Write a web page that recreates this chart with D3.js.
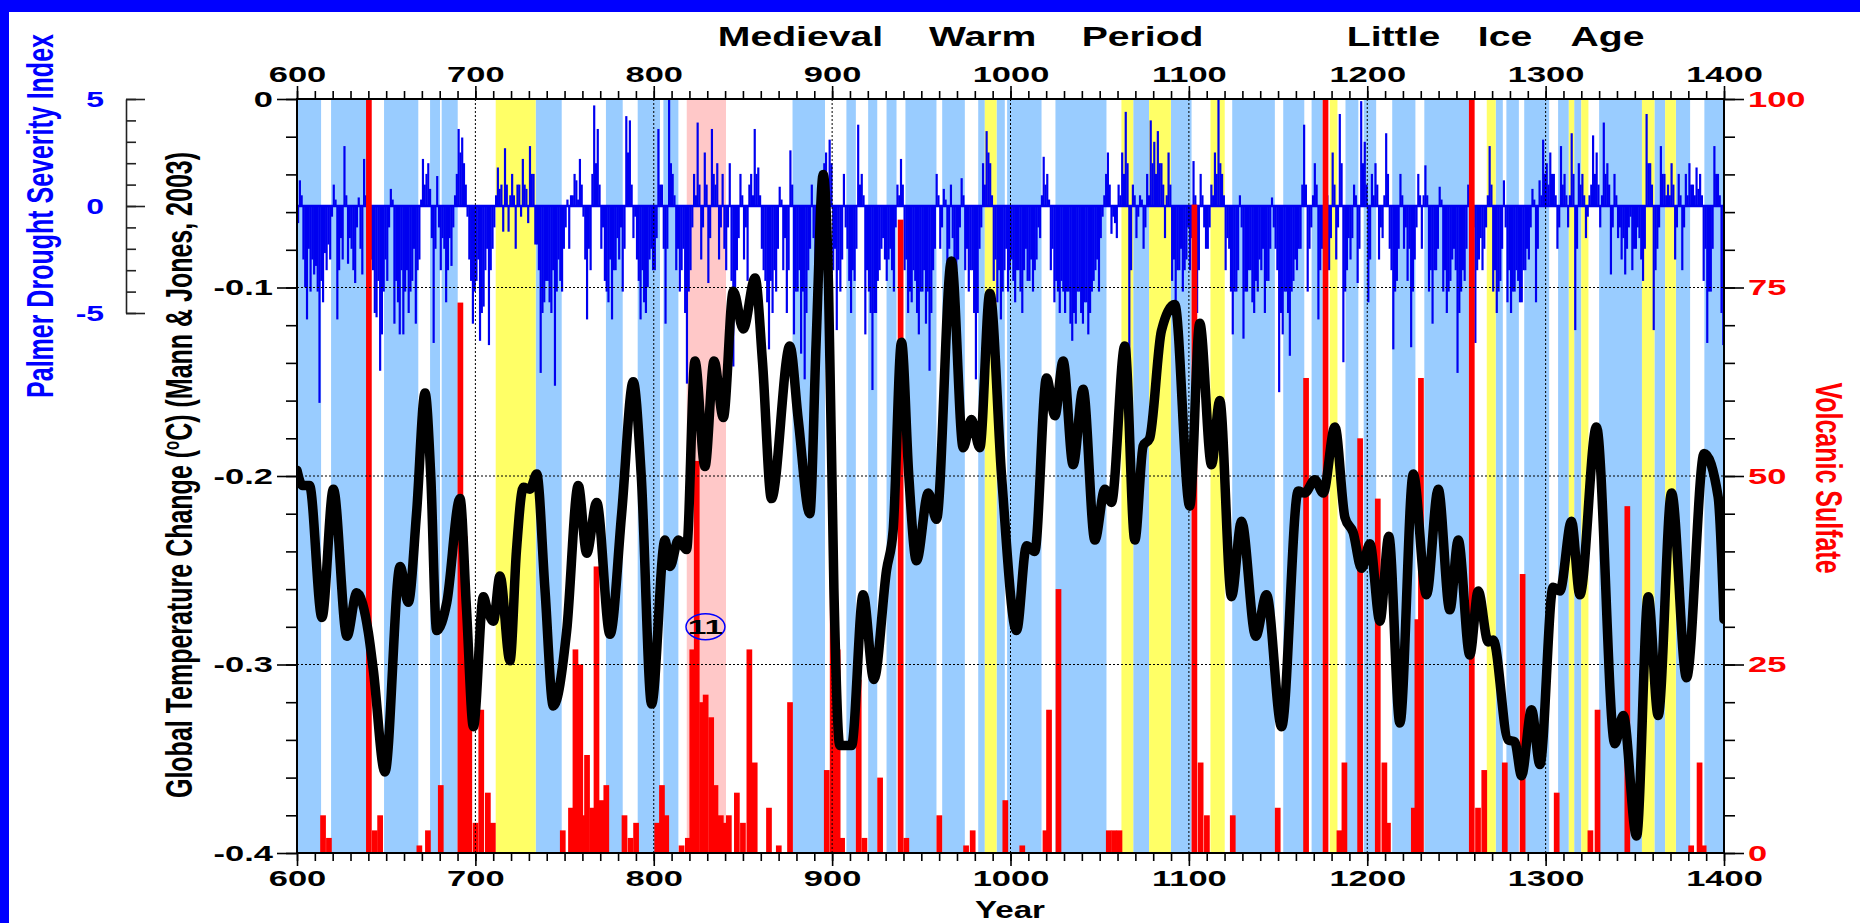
<!DOCTYPE html>
<html><head><meta charset="utf-8">
<script src="https://cdn.jsdelivr.net/npm/d3@7"></script>
<style>
html,body{margin:0;padding:0;background:#fff;}
svg{display:block;}
text{font-family:"Liberation Sans",Arial,Helvetica,sans-serif;font-weight:bold;}
</style></head><body>
<svg id="chart" width="1860" height="923"></svg>
<script>
// ---------------- DATA ----------------
const tempYears = [600,603,607,614,620.4,628,633.5,640,642.8,649.3,657.8,662.4,667,671.8,675,678.3,684,691.4,695,698.9,704.5,706.5,710.1,713.8,719.4,723,726.9,730.6,734.4,739,743.7,751.2,757.7,762.4,768,775.5,782,788.5,793,798.8,806.3,809.1,813.8,818.4,823.1,828.7,833.8,839,844.6,850.2,856.8,861,866,876.3,881,887.5,891,895,898,901,904.3,910.9,917.4,923.4,930.5,934.2,938.9,943,947.3,953.9,958.5,966.9,973.5,978.1,982.8,988.4,995,1003.4,1009,1013.6,1020.2,1024.9,1029.5,1035.1,1040.7,1047.3,1052.9,1056.6,1064.1,1069.7,1074.4,1078,1084.6,1092.1,1100.5,1106.1,1112.7,1117.3,1123.9,1129.5,1137.5,1143.5,1152,1161.3,1165,1170.6,1175.3,1181.9,1187.5,1192.1,1196.8,1201.5,1207.1,1212.1,1218.3,1225.8,1233.2,1239.8,1246.3,1251,1257.5,1262.2,1267.8,1270.6,1279,1282.7,1286.5,1292.1,1296.8,1304.2,1308,1314.5,1319.2,1328.5,1338.8,1343.5,1351,1357.5,1363.1,1370.6,1379,1388.9,1396.7,1400];
const tempValues = [-0.197,-0.205,-0.205,-0.275,-0.207,-0.285,-0.262,-0.283,-0.303,-0.357,-0.248,-0.267,-0.22,-0.156,-0.2,-0.282,-0.267,-0.212,-0.27,-0.333,-0.264,-0.27,-0.277,-0.253,-0.298,-0.24,-0.206,-0.207,-0.199,-0.26,-0.322,-0.282,-0.205,-0.241,-0.214,-0.284,-0.22,-0.15,-0.2,-0.321,-0.234,-0.248,-0.234,-0.239,-0.139,-0.195,-0.139,-0.169,-0.102,-0.122,-0.095,-0.14,-0.212,-0.131,-0.17,-0.22,-0.13,-0.04,-0.1,-0.26,-0.343,-0.343,-0.263,-0.308,-0.25,-0.229,-0.129,-0.2,-0.245,-0.209,-0.223,-0.086,-0.185,-0.17,-0.185,-0.103,-0.2,-0.282,-0.237,-0.24,-0.148,-0.168,-0.139,-0.194,-0.154,-0.234,-0.207,-0.214,-0.131,-0.234,-0.184,-0.18,-0.123,-0.109,-0.216,-0.119,-0.194,-0.16,-0.264,-0.224,-0.285,-0.263,-0.333,-0.208,-0.209,-0.202,-0.209,-0.174,-0.222,-0.23,-0.249,-0.236,-0.277,-0.232,-0.331,-0.199,-0.263,-0.207,-0.271,-0.234,-0.295,-0.261,-0.288,-0.287,-0.34,-0.341,-0.359,-0.324,-0.353,-0.259,-0.261,-0.224,-0.263,-0.174,-0.342,-0.327,-0.391,-0.264,-0.327,-0.209,-0.307,-0.188,-0.211,-0.276];

const volcYears = [613,616.3,638.7,642,645,667,671.8,679,690,692.5,695,698.5,701.7,705.4,708.2,747.4,752,754.5,757.2,759.5,761,764,766.3,769,771.8,782,785.4,788.5,800.3,803,805.4,814,817.5,820,822.5,825.5,827.5,830.6,833,836,838.5,840.5,845,848.4,852,855,863,868.5,874.8,895.4,898.7,901.5,904,913.3,916.5,925.3,936.8,940,958.5,973.5,977.2,995.5,1005,1018,1020,1025.3,1053.5,1056.5,1059.5,1101.5,1105,1108.5,1123,1148.2,1164.1,1175,1182.8,1185.6,1194.4,1204.3,1208,1210,1224.5,1226.5,1228.5,1257,1260.5,1264,1275.5,1285.5,1304.6,1323.5,1327.5,1344.2,1380,1384.7,1387];
const volcValues = [5,2,100,3,5,1,3,9,73,42,23,4,19,8,4,3,6,27,25,5,13,6,38,7,9,5,2,4,4,9,5,1,2,27,52,20,21,18,9,5,4,5,8,4,27,12,6,1,20,11,36,27,2,23,2,10,84,2,5,1,3,7,1,3,19,35,3,3,3,86,12,5,5,6,63,100,3,12,55,47,12,4,6,31,63,100,6,11,12,37,8,3,19,46,1,12,1];

const pdsiStartYear = 600;
const pdsi = [
-0.8,1.2,0.5,-2.5,-3.8,-5.3,-2.0,-4.0,-2.5,-3.2,
-2.8,-4.0,-9.2,-3.5,-4.5,-2.2,-3.0,-1.8,-2.5,-0.5,
1.0,0.3,-5.3,-3.0,-1.5,-2.5,2.8,0.5,-2.7,-1.5,
-2.0,-3.0,-3.6,-1.0,0.4,-2.0,-3.2,2.2,0.5,-1.0,
-4.7,-2.5,-3.0,-5.0,-5.2,-3.5,-7.7,-6.0,-4.0,-2.5,
-3.5,-1.0,0.8,0.3,-5.5,-3.5,-4.5,-6.0,-3.0,-6.0,
-4.0,-3.0,-5.0,-4.0,-3.5,-2.0,-5.5,-3.0,-2.5,0.3,
2.2,1.0,1.5,2.0,0.8,-1.5,-6.4,-2.0,1.4,-1.0,
-3.0,-1.5,-2.0,-4.5,-3.0,-1.5,-2.8,-1.0,0.5,1.5,
3.6,2.5,3.2,2.0,1.0,-0.5,-2.5,-3.5,-5.5,-4.0,
-3.5,-2.5,-6.3,-5.0,-4.7,-3.0,-2.0,-6.5,-3.0,-2.0,
-1.0,0.5,1.8,0.8,1.0,-1.2,2.7,1.0,-1.2,0.5,
1.5,0.5,-2.0,1.0,1.0,-0.5,2.2,1.0,0.8,-0.8,
2.8,1.5,1.5,-1.8,-1.8,-3.0,-7.8,-5.0,-4.5,-3.5,
-3.5,-4.5,-5.0,-3.0,-8.4,-4.0,-2.5,-3.5,-4.0,-2.0,
-1.0,0.3,-2.0,0.5,0.5,1.5,1.2,0.3,2.2,1.0,
-0.5,-2.5,-5.3,-2.0,-3.0,1.5,4.7,2.0,3.6,1.0,
-2.0,-1.0,-3.5,-4.0,-4.5,-2.5,-5.3,-3.0,-3.0,-1.5,
-2.5,-1.0,-4.0,-2.0,4.2,2.5,4.0,1.0,-1.5,-0.5,
-2.5,-3.5,-5.3,-3.0,-4.5,-5.0,-3.8,-2.5,-2.0,-3.0,
-3.0,-1.5,3.6,1.0,1.0,-2.0,-5.5,-2.0,5.0,2.0,
1.5,0.5,-3.0,-2.0,-4.0,-3.0,-2.0,-5.0,-8.3,-4.0,
-3.0,-1.0,1.5,0.5,3.9,1.0,-2.5,-1.0,2.5,1.0,
-3.6,-1.5,3.6,1.5,1.0,2.0,-2.5,-1.0,1.5,-2.0,
-3.0,-1.0,2.0,-3.5,-7.5,-4.0,-3.0,-1.5,1.5,0.5,
-2.5,-1.0,-3.5,1.0,1.5,0.5,3.6,1.5,1.8,0.5,
-2.0,-3.0,-3.5,-4.5,-6.7,-3.5,-5.0,-3.0,-4.0,-2.0,
0.9,0.3,-3.0,-1.5,-5.0,-3.0,2.6,1.0,-6.0,-4.0,
-4.0,-3.0,-6.9,-4.0,-8.1,-5.0,-3.0,-2.0,1.0,-1.5,
-4.0,-2.0,-2.0,0.5,1.5,2.0,2.5,1.0,3.1,2.0,
-3.0,-2.0,-5.8,-3.0,-4.0,-2.5,1.5,-1.0,-2.0,-3.5,
-5.0,-3.0,-3.5,-2.0,3.8,1.0,1.5,0.5,-6.0,-3.0,
-4.0,-5.0,-8.6,-5.0,-5.0,-3.5,-3.0,-2.0,-1.5,-2.5,
-3.5,-2.5,-2.0,-3.0,-4.0,-1.0,1.0,0.5,2.2,1.0,
-3.0,-2.5,-5.0,-4.0,-4.5,-3.0,-3.5,-5.0,-6.0,-4.0,
-4.0,-3.0,-5.5,-4.0,-7.7,-5.0,-3.0,-2.0,1.5,0.5,
-2.0,-1.0,0.8,0.3,-4.0,-2.0,1.0,-1.5,-5.3,-3.0,
-2.5,-1.0,1.3,0.5,-3.0,-2.0,-4.0,-3.0,-3.0,-5.0,
-8.1,-5.0,-2.0,-1.0,2.0,1.0,3.5,2.5,2.0,0.5,
-3.5,-2.5,-4.5,-3.0,-5.3,-4.0,-3.0,-2.0,-4.0,-3.0,
-2.5,-3.5,-4.5,-3.0,-3.0,-4.0,-5.0,-3.0,-2.0,-3.5,
-3.5,-2.5,-4.0,-3.0,-2.5,-1.0,-1.5,0.5,2.3,1.0,
1.5,0.3,-3.0,-2.0,-4.5,-3.5,-4.0,-5.0,-3.5,-4.0,
-5.0,-4.0,-4.0,-5.5,-6.3,-5.0,-5.5,-4.0,-4.0,-5.0,
-5.5,-4.5,-4.5,-6.0,-5.0,-4.0,-3.5,-3.0,-2.5,-4.0,
-1.5,-0.5,0.5,1.5,2.5,1.0,-1.3,-0.5,-0.8,-1.5,
1.0,0.5,2.5,1.5,4.4,2.0,-8.0,-3.0,1.0,0.5,
-1.5,-0.5,0.5,0.3,-2.0,-1.0,1.5,0.5,4.0,2.0,
3.0,1.5,3.5,2.0,2.0,1.0,-1.5,0.5,2.5,1.0,
-3.5,-2.5,-4.9,-3.0,-3.0,-2.0,-4.0,-3.0,-2.5,-1.0,
-3.0,-1.5,2.1,0.5,-5.0,-3.0,1.5,0.5,-1.0,-2.0,
-2.0,-1.0,1.0,0.5,2.5,1.5,5.0,2.0,1.5,0.5,
-3.0,-1.5,-2.0,-4.0,-6.0,-4.0,-4.0,-3.0,0.5,-1.0,
-6.2,-4.0,-4.0,-3.0,-3.0,-4.5,-5.0,-3.5,-4.0,-2.5,
-3.0,-2.0,-5.0,-3.5,-3.5,-2.0,0.4,-1.0,-2.0,-3.0,
-8.7,-5.0,-6.0,-4.0,-4.0,-5.0,-7.0,-4.0,-3.5,-2.5,
-3.0,-2.0,-2.0,1.0,3.8,1.0,-4.0,-2.0,-1.0,0.5,
2.0,1.0,-5.3,-3.0,-2.0,-1.0,1.0,0.5,-3.0,-1.5,
2.5,1.0,-2.5,-1.0,4.3,2.0,-7.3,-4.0,-3.0,-1.5,
-2.5,-1.5,1.0,0.5,-3.6,-2.0,4.9,2.0,3.0,1.0,
-4.5,-2.5,1.5,0.5,2.0,1.0,-2.5,-1.0,-1.5,0.5,
3.4,1.5,-2.0,-3.0,-6.7,-4.0,-3.5,-2.0,1.5,0.5,
-2.0,-1.0,-3.5,-2.0,-6.6,-4.0,-2.5,-1.0,1.5,0.5,
-2.0,0.5,1.9,0.5,-4.0,-3.0,-5.5,-3.0,-3.0,-2.0,
0.9,0.3,-4.0,-3.0,-5.0,-4.0,-3.5,-2.5,-2.0,-3.0,
-7.8,-5.0,-4.0,-3.0,-3.5,-2.0,1.0,0.5,1.7,-1.0,
-6.4,-3.0,-2.5,-1.5,-3.0,-2.0,-1.0,0.5,2.8,1.0,
-4.0,-3.0,-5.0,-4.0,-3.5,-2.0,1.2,-1.0,-4.5,-3.0,
-5.0,-4.0,-4.0,-3.0,-3.5,-4.5,-4.5,-3.0,-3.0,-2.0,
-2.5,-1.0,0.8,0.3,-4.5,-2.0,1.2,0.5,3.1,1.5,
2.0,1.0,2.5,1.5,1.5,0.5,-2.0,-1.0,2.8,1.0,
1.5,0.5,-1.0,0.5,3.4,1.5,-5.8,-2.0,2.0,1.0,
1.5,0.5,-1.5,-0.5,0.5,1.0,3.3,1.5,2.5,1.0,
-1.0,0.5,3.9,1.5,2.0,1.0,-3.2,-1.0,1.5,0.5,
-1.5,-1.0,-2.5,-1.5,-3.2,-2.0,-1.0,-0.5,-3.0,-2.0,
-2.0,-1.0,-1.5,-2.5,-3.5,-2.0,4.3,2.0,2.0,1.0,
-5.8,-3.0,-2.0,-1.0,2.8,1.5,1.5,0.5,1.0,0.5,
2.0,1.0,-2.5,-1.0,1.5,0.5,-3.0,-1.0,1.5,0.5,
2.0,1.0,1.0,0.5,1.8,0.8,1.5,0.5,-3.5,-2.0,
-6.4,-4.0,-4.0,-2.0,2.8,1.5,1.5,0.5,-5.0,-6.5
];

const blueBands = [[600,613.5],[619.1,638.7],[648.8,668],[674.6,680.2],[681.1,690.1],[733.8,748.4],[773.2,782.6],[791,803.5],[805.4,813.8],[877.8,896],[908,913.3],[920.2,925.3],[930.5,936.1],[941.1,958.5],[961.7,974.4],[981.9,985.6],[992.2,996.8],[998.1,1017.4],[1025.2,1053.8],[1068.8,1077.7],[1089.9,1101.5],[1124.3,1148.2],[1152.9,1164.7],[1168.8,1175],[1187.8,1195],[1198,1205],[1214,1227],[1232,1257],[1272,1276],[1278,1285],[1288,1302],[1307,1313],[1316,1320],[1330,1354],[1361,1367],[1373,1381],[1389,1400]];
const yellowBands = [[711.4,733.8],[985.6,992.2],[1062.2,1068.8],[1077.7,1089.9],[1112.1,1120.1],[1179,1183.3],[1267,1272],[1313,1316],[1320,1324],[1354,1361],[1367,1373]];
const pinkBands = [[818.5,840.5]];

const yearTicks = [600,700,800,900,1000,1100,1200,1300,1400];
const tempTicks = [0,-0.1,-0.2,-0.3,-0.4];
const sulfateTicks = [0,25,50,75,100];
const pdsiTicks = [5,0,-5];
const gridYears = [700,800,900,1000,1100,1200,1300];
const gridTemps = [-0.1,-0.2,-0.3];
const periodWords = ["Medieval","Warm","Period","Little","Ice","Age"];
const noteLabel = {year:829, temp:-0.28, text:"11"};

// ---------------- DRAWING ----------------
const W=1860,H=923;
const M={left:297,right:1724,top:99,bottom:853};
const svg=d3.select("#chart");
svg.append("rect").attr("width",W).attr("height",H).attr("fill","#0000ff");
svg.append("rect").attr("x",9).attr("y",12).attr("width",W-9).attr("height",H-12).attr("fill","#fff");

const x=d3.scaleLinear().domain([600,1400]).range([M.left,M.right]);
const y=d3.scaleLinear().domain([-0.4,0]).range([M.bottom,M.top]);
const yV=d3.scaleLinear().domain([0,100]).range([M.bottom,M.top]);
const yP=d3.scaleLinear().domain([-5,5]).range([313,99]);

svg.append("clipPath").attr("id","clip").append("rect")
  .attr("x",M.left).attr("y",M.top).attr("width",M.right-M.left).attr("height",M.bottom-M.top);
const plot=svg.append("g").attr("clip-path","url(#clip)");

function bands(arr,color){
  plot.append("g").selectAll("rect").data(arr).join("rect")
    .attr("x",d=>x(d[0])).attr("width",d=>x(d[1])-x(d[0]))
    .attr("y",M.top).attr("height",M.bottom-M.top).attr("fill",color);
}
bands(blueBands,"#99ccff");
bands(yellowBands,"#ffff66");
bands(pinkBands,"#ffc8c8");

const pd = pdsi.map((v,i)=>({year:pdsiStartYear+i,v}));
plot.append("g").selectAll("rect").data(pd).join("rect")
  .attr("x",d=>x(d.year)).attr("width",d=>x(d.year+1)-x(d.year)+0.4)
  .attr("y",d=>Math.min(yP(d.v),yP(0))).attr("height",d=>Math.abs(yP(d.v)-yP(0)))
  .attr("fill","#0000f0");
plot.append("line").attr("x1",M.left).attr("x2",M.right).attr("y1",yP(0)).attr("y2",yP(0))
  .attr("stroke","#0000f0").attr("stroke-width",2.5);

const vd = volcYears.map((yr,i)=>({year:yr,v:volcValues[i]}));
plot.append("g").selectAll("rect").data(vd).join("rect")
  .attr("x",d=>x(d.year)).attr("width",d=>x(d.year+3.2)-x(d.year))
  .attr("y",d=>yV(d.v)).attr("height",d=>yV(0)-yV(d.v)).attr("fill","#ff0000");

const grid=plot.append("g").attr("stroke","#000").attr("stroke-width",1).attr("stroke-dasharray","2,2");
grid.selectAll("line.v").data(gridYears).join("line").attr("class","v")
  .attr("x1",d=>x(d)).attr("x2",d=>x(d)).attr("y1",M.top).attr("y2",M.bottom);
grid.selectAll("line.h").data(gridTemps).join("line").attr("class","h")
  .attr("x1",M.left).attr("x2",M.right).attr("y1",d=>y(d)).attr("y2",d=>y(d));

const td = tempYears.map((yr,i)=>({year:yr,t:tempValues[i]}));
plot.append("path").datum(td)
  .attr("d",d3.line().x(d=>x(d.year)).y(d=>y(d.t)).curve(d3.curveMonotoneX))
  .attr("fill","none").attr("stroke","#000").attr("stroke-width",9.5)
  .attr("stroke-linejoin","round").attr("stroke-linecap","round");

const nx=x(noteLabel.year), ny=y(noteLabel.temp);
svg.append("ellipse").attr("cx",nx).attr("cy",ny).attr("rx",19.5).attr("ry",13)
  .attr("fill","none").attr("stroke","#0000ff").attr("stroke-width",1.5);
svg.append("text").attr("transform",`translate(${nx},${ny+7.5}) scale(1.6,1)`)
  .attr("text-anchor","middle").attr("font-size",21).attr("fill","#000").text(noteLabel.text);

svg.append("rect").attr("x",M.left).attr("y",M.top).attr("width",M.right-M.left).attr("height",M.bottom-M.top)
  .attr("fill","none").attr("stroke","#000").attr("stroke-width",2);

function styleAxis(g,size,color,sx){
  g.select(".domain").remove();
  g.selectAll("line").attr("stroke","#000").attr("stroke-width",1.6);
  g.selectAll("text").attr("font-family",'"Liberation Sans",Arial,sans-serif')
    .attr("font-weight","bold").attr("font-size",size).attr("fill",color)
    .each(function(){const t=d3.select(this);const xx=+t.attr("x")||0;t.attr("x",xx/sx).attr("transform",`scale(${sx},1)`);});
}
const SX=1.5;
const fmtYear=d=>String(d);
let g=svg.append("g").attr("transform",`translate(0,${M.top})`)
  .call(d3.axisTop(x).tickValues(d3.range(600,1401,10)).tickSize(8).tickFormat(""));
styleAxis(g,23,"#000",SX);
g=svg.append("g").attr("transform",`translate(0,${M.top})`)
  .call(d3.axisTop(x).tickValues(yearTicks).tickSize(13).tickPadding(4).tickFormat(fmtYear));
styleAxis(g,23,"#000",SX);
g=svg.append("g").attr("transform",`translate(0,${M.bottom})`)
  .call(d3.axisBottom(x).tickValues(d3.range(600,1401,10)).tickSize(8).tickFormat(""));
styleAxis(g,23,"#000",SX);
g=svg.append("g").attr("transform",`translate(0,${M.bottom})`)
  .call(d3.axisBottom(x).tickValues(yearTicks).tickSize(13).tickPadding(4).tickFormat(fmtYear));
styleAxis(g,23,"#000",SX);
g=svg.append("g").attr("transform",`translate(${M.left},0)`)
  .call(d3.axisLeft(y).tickValues(d3.range(0,-0.401,-0.02)).tickSize(11).tickFormat(""));
styleAxis(g,23,"#000",SX);
g=svg.append("g").attr("transform",`translate(${M.left},0)`)
  .call(d3.axisLeft(y).tickValues(tempTicks).tickSize(20).tickPadding(4).tickFormat(d=>d===0?"0":d.toFixed(1)));
styleAxis(g,23,"#000",SX);
g=svg.append("g").attr("transform",`translate(${M.right},0)`)
  .call(d3.axisRight(yV).tickValues(d3.range(0,101,5)).tickSize(11).tickFormat(""));
styleAxis(g,23,"#ff0000",SX);
g=svg.append("g").attr("transform",`translate(${M.right},0)`)
  .call(d3.axisRight(yV).tickValues(sulfateTicks).tickSize(20).tickPadding(4).tickFormat(d=>String(d)));
styleAxis(g,23,"#ff0000",SX);
const PX=126;
g=svg.append("g").attr("transform",`translate(${PX},0)`)
  .call(d3.axisRight(yP).tickValues(d3.range(-5,6,1)).tickSize(10).tickSizeOuter(0).tickFormat(""));
g.select(".domain").attr("stroke","#222").attr("stroke-width",1.6);
g.selectAll("line").attr("stroke","#222").attr("stroke-width",1.6);
g=svg.append("g").attr("transform",`translate(${PX},0)`)
  .call(d3.axisRight(yP).tickValues(pdsiTicks).tickSize(19).tickSizeOuter(0).tickFormat(""));
g.select(".domain").remove();
g.selectAll("line").attr("stroke","#222").attr("stroke-width",1.6);
g=svg.append("g").attr("transform",`translate(${PX},0)`)
  .call(d3.axisLeft(yP).tickValues(pdsiTicks).tickSize(0).tickPadding(22).tickFormat(d=>String(d)));
styleAxis(g,22,"#0000ff",1.45);

function word(txt,cx,by,size,sx,color){
  svg.append("text").attr("transform",`translate(${cx},${by}) scale(${sx},1)`)
    .attr("text-anchor","middle").attr("font-size",size).attr("fill",color).text(txt);
}
const wordX=[800.5,982.6,1142.6,1393.5,1505,1607.5];
periodWords.forEach((w,i)=>word(w,wordX[i],46,27,1.45,"#000"));
word("Year",1010,918,24,1.38,"#000");

const tl=svg.append("text").attr("transform","translate(179,475) rotate(-90) scale(1,1.45)")
  .attr("text-anchor","middle").attr("y",9).attr("font-size",25).attr("fill","#000");
tl.append("tspan").text("Global Temperature Change (");
tl.append("tspan").attr("font-size",15).attr("dy",-9).text("o");
tl.append("tspan").attr("dy",9).text("C) (Mann & Jones, 2003)");

svg.append("text").attr("transform","translate(40,216) rotate(-90) scale(1,1.45)")
  .attr("text-anchor","middle").attr("y",9).attr("font-size",25).attr("fill","#0000ff")
  .text("Palmer Drought Severity Index");
svg.append("text").attr("transform","translate(1829,478) rotate(90) scale(1,1.45)")
  .attr("text-anchor","middle").attr("y",9).attr("font-size",25).attr("fill","#ff0000")
  .text("Volcanic Sulfate");
</script>
</body></html>
